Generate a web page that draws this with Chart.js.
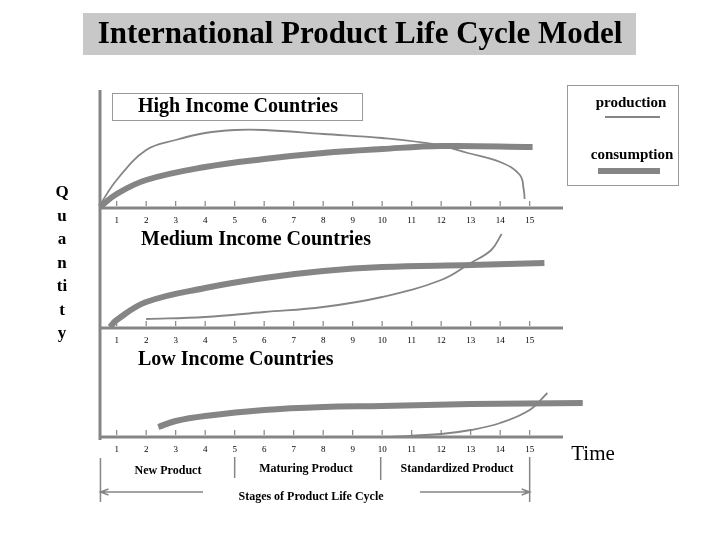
<!DOCTYPE html>
<html>
<head>
<meta charset="utf-8">
<script src="https://cdn.jsdelivr.net/npm/chart.js@4"></script>
<style>
  body { margin: 0; background: #fff; }
  #wrap { position: relative; width: 720px; height: 540px; }
</style>
</head>
<body>
<div id="wrap"><canvas id="cicloVida" width="720" height="540"></canvas></div>
<script>
// stages on the time axis
const estagios = [1, 2, 3, 4, 5, 6, 7, 8, 9, 10, 11, 12, 13, 14, 15];

// baseline of each panel (quantity units)
const baseAlta = 229;
const baseMedia = 109;
const baseBaixa = 0;

// High income countries: [stage, quantity above baseline]
const altaProducao = [[0.43, 3], [1, 28], [2, 58], [3, 68], [4, 75], [5, 78], [6, 78], [8, 74], [10, 70], [11.9, 63], [12.9, 55], [14, 46], [14.67, 33], [14.8, 18], [14.83, 9]];
const altaConsumo = [[0.43, 1], [1, 14], [2, 28], [4, 41], [6, 49], [8, 55], [10, 59], [12, 62], [15.1, 61]];

// Medium income countries
const mediaProducao = [[2, 9], [4, 11], [6, 16], [8, 21], [10, 31], [12, 48], [13, 65], [13.7, 78], [14.05, 94]];
const mediaConsumo = [[0.77, 1], [1, 8], [2, 26], [4, 40], [6, 50], [8, 57], [10, 61], [13, 63], [15.5, 65]];

// Low income countries
const baixaProducao = [[10.1, 0], [12, 3], [13, 7], [14, 14], [15, 27], [15.6, 44]];
const baixaConsumo = [[2.41, 10], [3, 16], [4, 21], [6, 27], [8, 30], [10, 31], [13, 33], [16.8, 34]];

const cinza = '#858585';

function serie(pontos, base, largura) {
  return {
    data: pontos.map(p => ({ x: p[0], y: p[1] + base })),
    borderColor: cinza,
    borderWidth: largura,
    pointRadius: 0,
    fill: false,
    tension: 0.4,
    clip: false
  };
}

const desenhos = {
  id: 'desenhos',
  afterDatasetsDraw(chart) {
    const ctx = chart.ctx;
    const sx = chart.scales.x, sy = chart.scales.y;
    ctx.save();
    ctx.strokeStyle = cinza;
    ctx.fillStyle = '#000';
    // vertical axis
    ctx.lineWidth = 3;
    ctx.beginPath();
    ctx.moveTo(sx.left, sy.top);
    ctx.lineTo(sx.left, sy.bottom + 3);
    ctx.stroke();
    // baselines, ticks, tick labels
    [baseAlta, baseMedia, baseBaixa].forEach(b => {
      const yb = sy.getPixelForValue(b);
      ctx.lineWidth = 3;
      ctx.beginPath();
      ctx.moveTo(sx.left, yb);
      ctx.lineTo(sx.right, yb);
      ctx.stroke();
      ctx.lineWidth = 1.2;
      ctx.font = '9px "Liberation Serif"';
      ctx.textAlign = 'center';
      ctx.textBaseline = 'top';
      estagios.forEach(e => {
        const xp = sx.getPixelForValue(e);
        ctx.beginPath();
        ctx.moveTo(xp, yb - 2);
        ctx.lineTo(xp, yb - 7);
        ctx.stroke();
        ctx.fillText(String(e), xp, yb + 8);
      });
    });
    // Stage separators
    const x1 = sx.getPixelForValue(0.45), x5 = sx.getPixelForValue(5), x10 = sx.getPixelForValue(9.95), x15 = sx.getPixelForValue(15);
    ctx.lineWidth = 1.5;
    [[x1, 458, 502], [x5, 457, 478], [x10, 457, 480], [x15, 457, 502]].forEach(s => {
      ctx.beginPath(); ctx.moveTo(s[0], s[1]); ctx.lineTo(s[0], s[2]); ctx.stroke();
    });
    ctx.beginPath();
    ctx.moveTo(x1, 492); ctx.lineTo(203, 492);
    ctx.moveTo(420, 492); ctx.lineTo(x15, 492);
    ctx.moveTo(x1 + 8, 489); ctx.lineTo(x1, 492); ctx.lineTo(x1 + 8, 495);
    ctx.moveTo(x15 - 8, 489); ctx.lineTo(x15, 492); ctx.lineTo(x15 - 8, 495);
    ctx.stroke();

    ctx.textBaseline = 'middle';
    ctx.textAlign = 'center';
    ctx.font = 'bold 12px "Liberation Serif"';
    ctx.fillText('New Product', 168, 471);
    ctx.fillText('Maturing Product', 306, 469);
    ctx.fillText('Standardized Product', 457, 469);
    ctx.fillText('Stages of Product Life Cycle', 311, 497);

    // title
    ctx.fillStyle = '#c8c8c8';
    ctx.fillRect(83, 13, 553, 42);
    ctx.fillStyle = '#000';
    ctx.font = 'bold 31px "Liberation Serif"';
    ctx.fillText('International Product Life Cycle Model', 360, 35);

    // panel labels
    ctx.lineWidth = 1;
    ctx.strokeStyle = '#999';
    ctx.strokeRect(112.5, 93.5, 250, 27);
    ctx.font = 'bold 20px "Liberation Serif"';
    ctx.fillText('High Income Countries', 238, 107);
    ctx.textAlign = 'left';
    ctx.fillText('Medium Income Countries', 141, 240);
    ctx.fillText('Low Income Countries', 138, 360);

    // legend
    ctx.strokeRect(567.5, 85.5, 111, 100);
    ctx.textAlign = 'center';
    ctx.font = 'bold 15px "Liberation Serif"';
    ctx.fillText('production', 631, 103);
    ctx.fillText('consumption', 632, 155);
    ctx.strokeStyle = cinza;
    ctx.lineWidth = 2;
    ctx.beginPath(); ctx.moveTo(605, 117); ctx.lineTo(660, 117); ctx.stroke();
    ctx.lineWidth = 6;
    ctx.beginPath(); ctx.moveTo(598, 171); ctx.lineTo(660, 171); ctx.stroke();

    // Quantity
    ctx.font = 'bold 17px "Liberation Serif"';
    ['Q', 'u', 'a', 'n', 'ti', 't', 'y'].forEach((l, i) => ctx.fillText(l, 62, 193 + i * 23.5));
    ctx.font = '21px "Liberation Serif"';
    ctx.fillText('Time', 593, 454);
    ctx.restore();
  }
};

new Chart(document.getElementById('cicloVida'), {
  type: 'line',
  data: {
    datasets: [
      serie(altaProducao, baseAlta, 1.8),
      serie(altaConsumo, baseAlta, 6),
      serie(mediaProducao, baseMedia, 1.8),
      serie(mediaConsumo, baseMedia, 6),
      serie(baixaProducao, baseBaixa, 1.8),
      serie(baixaConsumo, baseBaixa, 6)
    ]
  },
  options: {
    responsive: false,
    animation: false,
    layout: { padding: { left: 100, right: 157, top: 90, bottom: 103 } },
    plugins: { legend: { display: false }, tooltip: { enabled: false } },
    scales: {
      x: { type: 'linear', min: 0.435, max: 16.13, display: false },
      y: { min: 0, max: 347, display: false }
    }
  },
  plugins: [desenhos]
});
</script>
</body>
</html>
